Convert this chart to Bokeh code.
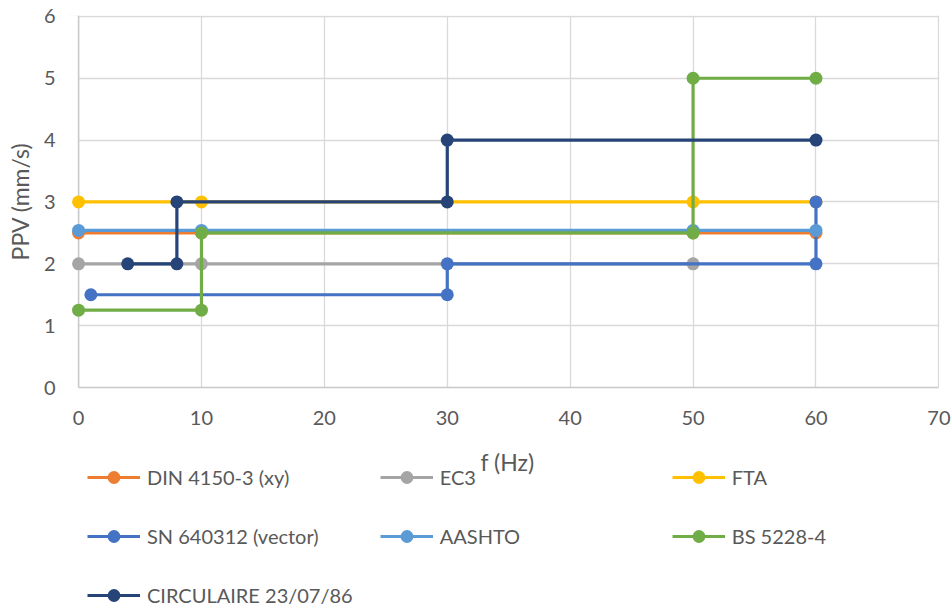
from bokeh.plotting import figure
from bokeh.models import Range1d, Legend, LegendItem, BoxAnnotation, FixedTicker, Span, Label
from bokeh.layouts import column
from bokeh.embed import file_html
from bokeh.resources import INLINE

FONT = "Lato"
TXT = "#595959"

names = ["DIN 4150-3 (xy)", "EC3", "FTA", "SN 640312 (vector)", "AASHTO", "BS 5228-4", "CIRCULAIRE 23/07/86"]
colors = ["#ED7D31", "#A5A5A5", "#FFC000", "#4472C4", "#5B9BD5", "#70AD47", "#264478"]

din_f = [0, 10, 50, 60]
din_v = [2.5, 2.5, 2.5, 2.5]
ec3_f = [0, 10, 50]
ec3_v = [2, 2, 2]
fta_f = [0, 10, 50, 60]
fta_v = [3, 3, 3, 3]
sn_f = [1, 30, 30, 60, 60]
sn_v = [1.5, 1.5, 2, 2, 3]
aashto_f = [0, 10, 50, 60]
aashto_v = [2.54, 2.54, 2.54, 2.54]
bs_f = [0, 10, 10, 50, 50, 60]
bs_v = [1.25, 1.25, 2.5, 2.5, 5, 5]
circ_f = [4, 8, 8, 30, 30, 60]
circ_v = [2, 2, 3, 3, 4, 4]

x_ticks = [0, 10, 20, 30, 40, 50, 60, 70]
y_ticks = [0, 1, 2, 3, 4, 5, 6]
x_title = "f (Hz)"
y_title = "PPV (mm/s)"

series = [(din_f, din_v), (ec3_f, ec3_v), (fta_f, fta_v), (sn_f, sn_v),
          (aashto_f, aashto_v), (bs_f, bs_v), (circ_f, circ_v)]

# ---------------- main chart ----------------
p = figure(width=952, height=440, output_backend="svg", toolbar_location=None,
           x_range=Range1d(-0.9, 70.05), y_range=Range1d(0, 6.015),
           min_border_left=67, min_border_right=13, min_border_top=15, min_border_bottom=53)
p.outline_line_color = None
p.background_fill_color = "white"

for ax, ticks in ((p.xaxis[0], x_ticks), (p.yaxis[0], y_ticks)):
    ax.ticker = FixedTicker(ticks=ticks)
    ax.major_tick_line_color = None
    ax.minor_tick_line_color = None
    ax.major_tick_out = 0
    ax.major_tick_in = 0
    ax.major_label_text_font = FONT
    ax.major_label_text_font_size = "20px"
    ax.major_label_text_color = TXT
    ax.axis_label_text_font = FONT
    ax.axis_label_text_font_size = "23px"
    ax.axis_label_text_color = TXT
    ax.axis_label_text_font_style = "normal"

p.xaxis.bounds = (0, 70)
p.xaxis.axis_line_color = "#C8C8C8"
p.xaxis.axis_line_width = 1.5
p.yaxis.axis_line_color = None
p.yaxis.axis_label = y_title
p.xaxis.major_label_standoff = 23
p.yaxis.major_label_standoff = 12
p.yaxis.axis_label_standoff = 7

for g in (p.xgrid[0], p.ygrid[0]):
    g.grid_line_color = "#D9D9D9"
    g.grid_line_width = 1.3
p.xgrid.ticker = FixedTicker(ticks=x_ticks)
p.ygrid.ticker = FixedTicker(ticks=y_ticks)

# hide grid stubs left of x=0, then draw the vertical axis line at x=0
p.add_layout(BoxAnnotation(right=0, fill_color="white", fill_alpha=1, line_alpha=0, level="underlay"))
p.add_layout(Span(location=0, dimension="height", line_color="#C8C8C8", line_width=1.5, level="underlay"))

for name, color, (fx, fy) in zip(names, colors, series):
    p.line(fx, fy, line_color=color, line_width=3.2)
    p.scatter(fx, fy, size=13, fill_color=color, line_color=color, line_width=0)

# ---------------- x title + legend ----------------
# (column layout aligns this figure's frame with the chart's frame: left edge at 67px)
q = figure(width=952, height=168, output_backend="svg", toolbar_location=None,
           x_range=Range1d(0, 1), y_range=Range1d(0, 1),
           x_axis_location=None, y_axis_location=None,
           min_border_left=67, min_border_right=13, min_border_top=0, min_border_bottom=0)
q.outline_line_color = None
q.grid.visible = False

q.add_layout(Label(x=440, y=147, x_units="screen", y_units="screen", text=x_title,
                   text_font=FONT, text_font_size="23px", text_color=TXT,
                   text_align="center", text_baseline="middle"))

nan = float("nan")
items = []
for name, color in zip(names, colors):
    r1 = q.line([nan], [nan], line_color=color, line_width=3.2)
    r2 = q.scatter([nan], [nan], size=13, fill_color=color, line_color=color, line_width=0)
    items.append(LegendItem(label=name, renderers=[r1, r2]))

legend = Legend(items=items, location=(20, -3), orientation="horizontal", ncols=3,
                glyph_width=53, glyph_height=32, label_standoff=7, label_width=205,
                spacing=27, padding=0, margin=0, border_line_color=None,
                background_fill_alpha=0, label_text_font=FONT, label_text_font_size="20px",
                label_text_color=TXT)
q.add_layout(legend, "center")

layout = column(p, q, spacing=0)
open("out.html", "w").write(file_html(layout, INLINE))
